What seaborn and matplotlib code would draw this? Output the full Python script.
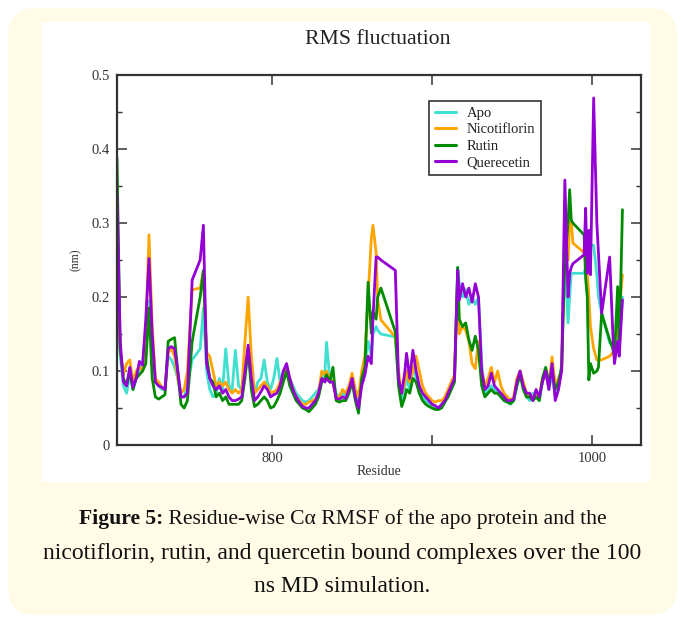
import numpy as np
import pandas as pd
import matplotlib
matplotlib.use("Agg")
import matplotlib.pyplot as plt
from matplotlib.patches import FancyBboxPatch, Rectangle
from matplotlib.lines import Line2D
import seaborn as sns

residues = [703, 705, 707, 709, 711, 713, 715, 717, 719, 721, 723, 725, 727, 729, 731, 733,
            735, 737, 739, 741, 743, 745, 747, 750, 755, 757, 759, 761, 763, 765, 767, 769,
            771, 773, 775, 777, 779, 781, 783, 785, 787, 789, 791, 793, 795, 797, 799, 801,
            803, 805, 807, 809, 811, 813, 815, 817, 819, 821, 823, 825, 827, 829, 831, 833,
            834, 836, 838, 840, 842, 844, 846, 848, 850, 852, 854, 856, 858, 860, 862, 863,
            865, 866, 868, 877, 879, 881, 883, 884, 886, 888, 890, 892, 894, 896, 898, 900,
            902, 904, 906, 908, 910, 912, 914, 916, 917, 919, 921, 923, 925, 927, 929, 931,
            933, 935, 937, 939, 941, 943, 945, 947, 949, 951, 953, 955, 957, 959, 961, 963,
            965, 967, 969, 971, 973, 975, 977, 979, 981, 983, 985, 986, 987, 988, 995, 996,
            997, 998, 999, 1001, 1003, 1004, 1006, 1011, 1013, 1014, 1016, 1017, 1019]

apo = [0.205, 0.12, 0.08, 0.07, 0.095, 0.075, 0.09, 0.10, 0.11, 0.16, 0.195, 0.14, 0.085, 0.08, 0.075, 0.075,
       0.12, 0.115, 0.105, 0.09, 0.065, 0.065, 0.08, 0.115, 0.13, 0.185, 0.10, 0.075, 0.065, 0.07, 0.09, 0.075,
       0.13, 0.08, 0.075, 0.128, 0.08, 0.075, 0.10, 0.12, 0.09, 0.07, 0.085, 0.09, 0.115, 0.085, 0.075, 0.09,
       0.117, 0.085, 0.10, 0.105, 0.09, 0.08, 0.07, 0.065, 0.06, 0.058, 0.06, 0.065, 0.07, 0.075, 0.09, 0.10,
       0.139, 0.09, 0.085, 0.07, 0.065, 0.07, 0.065, 0.075, 0.09, 0.07, 0.06, 0.09, 0.11, 0.14, 0.12, 0.15,
       0.16, 0.155, 0.15, 0.146, 0.09, 0.06, 0.08, 0.09, 0.075, 0.105, 0.09, 0.07, 0.065, 0.06, 0.055, 0.05,
       0.05, 0.05, 0.055, 0.06, 0.07, 0.08, 0.095, 0.24, 0.218, 0.20, 0.21, 0.19, 0.20, 0.19, 0.20, 0.11,
       0.07, 0.075, 0.08, 0.075, 0.07, 0.065, 0.06, 0.058, 0.055, 0.06, 0.08, 0.095, 0.08, 0.065, 0.06, 0.07,
       0.065, 0.06, 0.085, 0.10, 0.075, 0.095, 0.065, 0.075, 0.11, 0.25, 0.165, 0.20, 0.232, 0.232, 0.232, 0.24,
       0.26, 0.28, 0.27, 0.27, 0.23, 0.20, 0.178, 0.138, 0.135, 0.14, 0.15, 0.14, 0.20]

nicotiflorin = [0.25, 0.13, 0.095, 0.11, 0.115, 0.085, 0.10, 0.105, 0.10, 0.15, 0.284, 0.16, 0.09, 0.085, 0.078, 0.075,
                0.125, 0.13, 0.12, 0.09, 0.07, 0.075, 0.10, 0.21, 0.212, 0.235, 0.125, 0.12, 0.10, 0.08, 0.085, 0.08,
                0.085, 0.075, 0.07, 0.075, 0.07, 0.075, 0.14, 0.20, 0.12, 0.07, 0.075, 0.08, 0.085, 0.08, 0.07, 0.072,
                0.075, 0.085, 0.095, 0.105, 0.09, 0.075, 0.065, 0.06, 0.055, 0.055, 0.058, 0.06, 0.062, 0.07, 0.10, 0.095,
                0.10, 0.09, 0.085, 0.065, 0.065, 0.075, 0.07, 0.08, 0.097, 0.075, 0.065, 0.10, 0.12, 0.20, 0.28, 0.297,
                0.26, 0.196, 0.169, 0.146, 0.10, 0.07, 0.085, 0.10, 0.085, 0.10, 0.12, 0.10, 0.08, 0.07, 0.065, 0.06,
                0.058, 0.06, 0.06, 0.065, 0.075, 0.085, 0.095, 0.225, 0.15, 0.16, 0.155, 0.14, 0.11, 0.103, 0.14, 0.10,
                0.08, 0.09, 0.105, 0.085, 0.10, 0.08, 0.07, 0.065, 0.06, 0.065, 0.09, 0.10, 0.085, 0.07, 0.065, 0.065,
                0.07, 0.065, 0.09, 0.095, 0.08, 0.119, 0.08, 0.09, 0.10, 0.30, 0.25, 0.30, 0.304, 0.273, 0.26, 0.25,
                0.232, 0.20, 0.16, 0.13, 0.115, 0.115, 0.115, 0.12, 0.125, 0.13, 0.16, 0.18, 0.23]

rutin = [0.388, 0.13, 0.09, 0.08, 0.10, 0.075, 0.09, 0.095, 0.10, 0.11, 0.185, 0.09, 0.065, 0.062, 0.065, 0.068,
         0.14, 0.143, 0.145, 0.10, 0.055, 0.05, 0.06, 0.14, 0.20, 0.236, 0.12, 0.09, 0.085, 0.065, 0.07, 0.06,
         0.065, 0.055, 0.055, 0.055, 0.055, 0.06, 0.09, 0.13, 0.075, 0.052, 0.055, 0.06, 0.065, 0.06, 0.05, 0.052,
         0.06, 0.07, 0.085, 0.10, 0.08, 0.07, 0.06, 0.055, 0.05, 0.048, 0.045, 0.05, 0.055, 0.065, 0.085, 0.09,
         0.095, 0.085, 0.105, 0.06, 0.058, 0.06, 0.06, 0.07, 0.085, 0.06, 0.043, 0.09, 0.105, 0.22, 0.151, 0.18,
         0.17, 0.20, 0.212, 0.153, 0.08, 0.052, 0.065, 0.075, 0.07, 0.09, 0.085, 0.07, 0.06, 0.055, 0.052, 0.05,
         0.048, 0.048, 0.05, 0.058, 0.065, 0.075, 0.085, 0.24, 0.17, 0.16, 0.165, 0.142, 0.128, 0.147, 0.128, 0.08,
         0.065, 0.07, 0.075, 0.07, 0.07, 0.065, 0.06, 0.058, 0.056, 0.06, 0.08, 0.095, 0.075, 0.065, 0.065, 0.06,
         0.065, 0.06, 0.09, 0.105, 0.085, 0.10, 0.075, 0.085, 0.105, 0.25, 0.30, 0.345, 0.304, 0.30, 0.284, 0.225,
         0.20, 0.088, 0.11, 0.097, 0.10, 0.105, 0.178, 0.142, 0.13, 0.12, 0.214, 0.13, 0.318]

querecetin = [0.34, 0.14, 0.085, 0.08, 0.105, 0.078, 0.09, 0.113, 0.108, 0.17, 0.252, 0.15, 0.085, 0.08, 0.078, 0.075,
              0.13, 0.133, 0.13, 0.10, 0.065, 0.065, 0.07, 0.223, 0.25, 0.297, 0.11, 0.09, 0.08, 0.075, 0.08, 0.07,
              0.075, 0.065, 0.06, 0.06, 0.062, 0.065, 0.10, 0.135, 0.09, 0.06, 0.065, 0.072, 0.08, 0.075, 0.065, 0.068,
              0.07, 0.08, 0.10, 0.11, 0.09, 0.075, 0.065, 0.058, 0.052, 0.05, 0.05, 0.055, 0.06, 0.07, 0.09, 0.085,
              0.09, 0.085, 0.085, 0.063, 0.062, 0.065, 0.063, 0.075, 0.09, 0.065, 0.05, 0.08, 0.095, 0.12, 0.11, 0.17,
              0.254, 0.254, 0.25, 0.236, 0.09, 0.07, 0.10, 0.124, 0.09, 0.128, 0.10, 0.08, 0.07, 0.065, 0.06, 0.055,
              0.053, 0.05, 0.055, 0.06, 0.07, 0.08, 0.09, 0.236, 0.196, 0.218, 0.20, 0.212, 0.193, 0.218, 0.20, 0.10,
              0.075, 0.08, 0.097, 0.08, 0.075, 0.07, 0.065, 0.06, 0.06, 0.062, 0.085, 0.10, 0.08, 0.07, 0.07, 0.06,
              0.075, 0.065, 0.085, 0.10, 0.075, 0.11, 0.06, 0.075, 0.10, 0.358, 0.20, 0.232, 0.24, 0.245, 0.257, 0.32,
              0.232, 0.29, 0.23, 0.469, 0.30, 0.26, 0.178, 0.254, 0.15, 0.11, 0.14, 0.12, 0.196]

systems = ["Apo", "Nicotiflorin", "Rutin", "Querecetin"]
colors = ["#40E0D0", "#FFA500", "#008B00", "#9400D3"]

frames = []
for name, vals in zip(systems, [apo, nicotiflorin, rutin, querecetin]):
    frames.append(pd.DataFrame({"Residue": residues, "RMSF": vals, "System": name}))
df = pd.concat(frames, ignore_index=True)

sns.set_theme(style="ticks")
plt.rcParams["font.family"] = ["Liberation Serif", "DejaVu Serif"]

W, H = 685, 623
fig = plt.figure(figsize=(W / 100, H / 100), dpi=100)
fig.patch.set_facecolor("white")

# cream rounded card
card = FancyBboxPatch((8 / W, 8 / H), (677 - 8) / W, (615 - 8) / H,
                      boxstyle="round,pad=0,rounding_size=0.04",
                      transform=fig.transFigure, facecolor="#FFFBE6", edgecolor="none",
                      mutation_aspect=W / H, zorder=0)
fig.patches.append(card)
# white panel with chart
panel = Rectangle((42 / W, 1 - 482 / H), (650 - 42) / W, (482 - 22) / H,
                  transform=fig.transFigure, facecolor="white", edgecolor="none", zorder=0.5)
fig.patches.append(panel)

ax = fig.add_axes([117 / W, 1 - 445 / H, (641 - 117) / W, (445 - 75) / H])
ax.set_zorder(3)
ax.set_facecolor("white")

sns.lineplot(data=df, x="Residue", y="RMSF", hue="System", hue_order=systems,
             palette=colors, estimator=None, sort=False, linewidth=2.0, ax=ax, legend=False)

ax.set_xlim(703, 1030.6)
ax.set_ylim(0, 0.5)
ax.set_xticks([800, 900, 1000])
ax.set_xticklabels(["800", "", "1000"])
ax.set_yticks([0, 0.1, 0.2, 0.3, 0.4, 0.5])
ax.set_yticklabels(["0", "0.1", "0.2", "0.3", "0.4", "0.5"])
ax.set_yticks([0.05, 0.15, 0.25, 0.35, 0.45], minor=True)
ax.tick_params(axis="both", which="major", direction="in", length=7, width=1.1,
               top=True, right=True, labelsize=10.5, colors="#333333", labelcolor="#333333", pad=5)
ax.tick_params(axis="y", which="minor", direction="in", length=3.5, width=1.0, right=True, left=True,
               colors="#333333")
for s in ax.spines.values():
    s.set_color("#333333")
    s.set_linewidth(1.6)

ax.set_xlabel("Residue", fontsize=10, color="#333333", labelpad=0)
ax.set_ylabel("(nm)", fontsize=8.5, color="#333333", labelpad=7)

handles = [Line2D([], [], color=c, lw=2.2) for c in colors]
leg = ax.legend(handles, systems, loc="upper left", bbox_to_anchor=(0.595, 0.93),
                fontsize=10.5, frameon=True, fancybox=False, edgecolor="black",
                handlelength=1.5, handletextpad=0.7, borderpad=0.4, labelspacing=0.22,
                borderaxespad=0)
leg.get_frame().set_linewidth(1.2)
for t in leg.get_texts():
    t.set_color("#222222")

fig.text(378 / W, 1 - 40 / H, "RMS fluctuation", ha="center", va="center", fontsize=15.7,
         color="#222222", zorder=4)

# caption
fig.canvas.draw()
renderer = fig.canvas.get_renderer()
bold_part = "Figure 5:"
rest1 = " Residue-wise Cα RMSF of the apo protein and the"
size1 = 15.6
size2 = 17.0
t1 = fig.text(0, 1 - 519 / H, bold_part, fontsize=size1, fontweight="bold", va="center", ha="left",
              color="#111111", zorder=4)
t2 = fig.text(0, 1 - 519 / H, rest1, fontsize=size1, va="center", ha="left", color="#111111", zorder=4)
w1 = t1.get_window_extent(renderer).width
w2 = t2.get_window_extent(renderer).width
start = (W / 2 - (w1 + w2) / 2)
t1.set_x(start / W)
t2.set_x((start + w1) / W)
fig.text(0.5, 1 - 553 / H, "nicotiflorin, rutin, and quercetin bound complexes over the 100",
         fontsize=size2, ha="center", va="center", color="#111111", zorder=4)
fig.text(0.5, 1 - 587 / H, "ns MD simulation.", fontsize=size2, ha="center", va="center",
         color="#111111", zorder=4)

fig.savefig("out.png", dpi=100, facecolor="white")
